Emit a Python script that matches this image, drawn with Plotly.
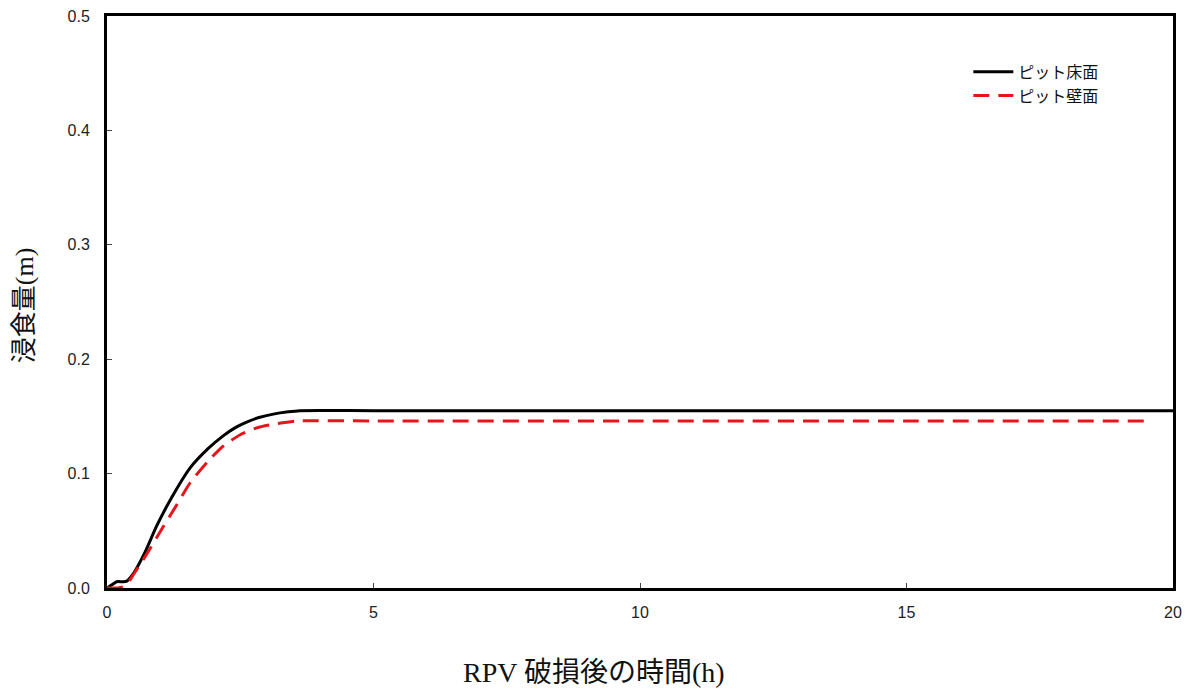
import plotly.graph_objects as go

# ピット床面 (black solid)
t_floor = [0.0, 0.1, 0.18, 0.3, 0.37, 0.5, 0.7, 0.93, 1.2, 1.56, 1.9, 2.18, 2.4, 2.62, 2.85, 3.12, 3.4, 3.62, 5.0, 10.0, 15.0, 20.0]
v_floor = [0.0, 0.003, 0.0055, 0.0055, 0.006, 0.013, 0.030, 0.054, 0.078, 0.105, 0.122, 0.133, 0.140, 0.145, 0.149, 0.152, 0.154, 0.155, 0.155, 0.155, 0.155, 0.155]

# ピット壁面 (red dashed)
t_wall = [0.0, 0.2, 0.3, 0.37, 0.5, 0.75, 1.06, 1.3, 1.56, 1.9, 2.18, 2.5, 2.81, 3.1, 3.56, 5.0, 10.0, 15.0, 19.5]
v_wall = [0.0, 0.0, 0.001, 0.003, 0.012, 0.030, 0.054, 0.072, 0.092, 0.111, 0.124, 0.134, 0.140, 0.143, 0.146, 0.146, 0.146, 0.146, 0.146]

x_ticks = [0, 5, 10, 15, 20]
y_ticks = [0.0, 0.1, 0.2, 0.3, 0.4, 0.5]

fig = go.Figure()
fig.add_trace(go.Scatter(x=t_floor, y=v_floor, mode="lines", name="ピット床面",
                         line=dict(color="black", width=3, shape="spline", smoothing=0.6)))
fig.add_trace(go.Scatter(x=t_wall, y=v_wall, mode="lines", name="ピット壁面",
                         line=dict(color="#e8141b", width=3, dash="16px,9px", shape="spline", smoothing=0.6)))

axis_common = dict(showline=True, linecolor="black", linewidth=3, mirror=True,
                   ticks="inside", ticklen=5, tickcolor="#444", tickwidth=1,
                   showgrid=False, zeroline=False, automargin=False,
                   ticklabeloverflow="allow",
                   tickfont=dict(family="Liberation Sans, Arial, sans-serif", size=16, color="#222"))

title_font = dict(family="Liberation Serif, Noto Sans CJK JP, serif", size=28, color="#111")
ytitle_font = dict(family="Liberation Serif, Noto Sans CJK JP, serif", size=26, color="#111")

# page has an 8px body margin; figure is sized/margined to compensate
fig.update_layout(
    width=1189, height=682,
    margin=dict(l=99, r=24, t=8, b=102),
    plot_bgcolor="white", paper_bgcolor="white",
    xaxis=dict(range=[0, 20], tickvals=x_ticks, ticktext=[str(v) for v in x_ticks],
               ticklabelstandoff=8, **axis_common),
    yaxis=dict(range=[0, 0.5], tickvals=y_ticks, ticktext=[f"{v:.1f}" for v in y_ticks],
               ticklabelstandoff=11, **axis_common),
    legend=dict(x=0.808, y=0.932, xanchor="left", yanchor="top",
                bgcolor="rgba(0,0,0,0)", tracegroupgap=0,
                font=dict(family="Noto Sans CJK JP, sans-serif", size=16, color="#111"),
                itemwidth=40),
    showlegend=True,
    annotations=[
        dict(text="RPV 破損後の時間(h)", xref="paper", yref="paper", x=0.4568, y=-0.147,
             xanchor="center", yanchor="middle", showarrow=False, font=title_font),
        dict(text="浸食量(m)", xref="paper", yref="paper", x=-0.0775, y=0.495,
             xanchor="center", yanchor="middle", showarrow=False, textangle=-90, font=ytitle_font),
    ],
)

fig.write_html("out.html")
